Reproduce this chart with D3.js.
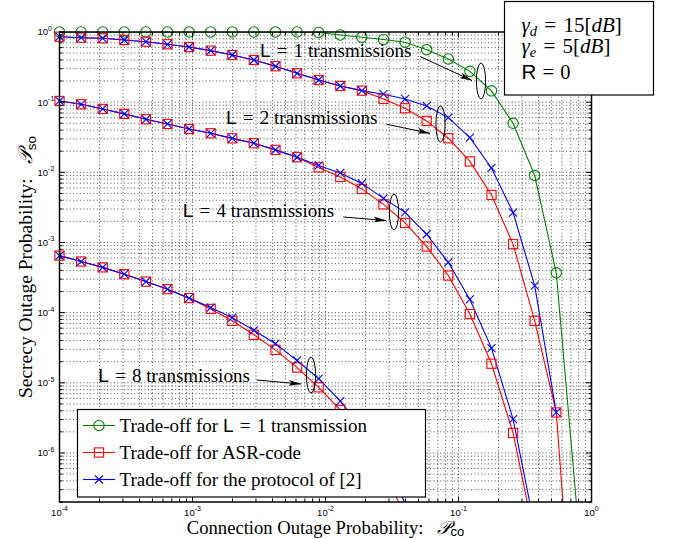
<!DOCTYPE html>
<html>
<head>
<meta charset="utf-8">
<script src="https://cdn.jsdelivr.net/npm/d3@7"></script>
<style>
  body { margin: 0; background: #fff; }
  text { font-family: "Liberation Serif", "Times New Roman", serif; }
  .tick-label { font-family: "Liberation Sans", Arial, sans-serif; font-size: 9.5px; }
</style>
</head>
<body>
<div id="chart"></div>
<script>
let width = 673;
let height = 539;
let margin = ({top: 32, right: 81.5, bottom: 37, left: 59.5});

// connection outage probability at each sample (same for every curve)
let xVals = [1.00e-4, 1.453e-4, 2.113e-4, 3.071e-4, 4.464e-4, 6.486e-4, 9.428e-4, 1.370e-3,
    1.991e-3, 2.894e-3, 4.207e-3, 6.114e-3, 8.888e-3, 0.01292, 0.01877, 0.02729, 0.03966,
    0.05765, 0.08379, 0.1218, 0.1770, 0.2573, 0.3740, 0.5436, 0.7900];

// secrecy outage probability
let singleL1 = [1, 1, 1, 1, 1, 1, 1, 1, 1, 1, 1, 1, 0.984, 0.906, 0.843, 0.782, 0.716,
    0.56, 0.413, 0.275, 0.145, 0.05, 0.009, 3.7e-4, 1.1e-7];

let asrL2 = [0.857, 0.830, 0.813, 0.769, 0.728, 0.668, 0.611, 0.542, 0.470, 0.399, 0.325,
    0.258, 0.207, 0.170, 0.146, 0.111, 0.0819, 0.0540, 0.0306, 0.0143, 0.00476, 9.48e-4,
    7.64e-5, 3.78e-6, 2.7e-10];
let protoL2 = [0.857, 0.830, 0.813, 0.769, 0.728, 0.668, 0.611, 0.542, 0.470, 0.399, 0.325,
    0.258, 0.207, 0.170, 0.146, 0.130, 0.111, 0.0883, 0.0602, 0.0312, 0.01155, 0.00267,
    2.43e-4, 3.78e-6];

let asrL4 = [0.104, 0.0933, 0.080, 0.068, 0.057, 0.0489, 0.0415, 0.036, 0.0305, 0.026,
    0.0209, 0.0164, 0.01175, 0.0086, 0.0058, 0.00349, 0.0019, 8.75e-4, 3.38e-4, 9.55e-5,
    1.87e-5, 1.93e-6, 6.0e-8];
let protoL4 = [0.104, 0.0933, 0.080, 0.068, 0.057, 0.0489, 0.0415, 0.036, 0.0305, 0.026,
    0.0209, 0.0164, 0.01254, 0.0098, 0.00695, 0.00425, 0.00269, 0.00131, 5.21e-4, 1.54e-4,
    3.12e-5, 3.04e-6, 8.8e-8];

let asrL8 = [6.5e-4, 5.35e-4, 4.42e-4, 3.53e-4, 2.77e-4, 2.16e-4, 1.61e-4, 1.13e-4, 7.64e-5,
    4.83e-5, 2.95e-5, 1.65e-5, 8.63e-6, 4.12e-6, 1.65e-6, 5.4e-7, 1.32e-7, 2.2e-8];
let protoL8 = [6.5e-4, 5.35e-4, 4.42e-4, 3.53e-4, 2.77e-4, 2.16e-4, 1.61e-4, 1.18e-4, 8.49e-5,
    5.6e-5, 3.61e-5, 2.08e-5, 1.15e-5, 5.48e-6, 2.29e-6, 8.5e-7, 1.92e-7, 3.5e-8];

let xDomain = [1e-4, 1];
let yDomain = [2e-7, 1];
let xTickExp = [-4, -3, -2, -1, 0];
let yTickExp = [0, -1, -2, -3, -4, -5, -6];

let legendLabels = ["Trade-off for ", "Trade-off for ASR-code", "Trade-off for the protocol of [2]"];

let green = "#008000", red = "#ff0000", blue = "#0000ff";

let svg = d3.select("#chart").append("svg")
    .attr("width", width)
    .attr("height", height);

let xScale = d3.scaleLog().domain(xDomain).range([margin.left, width - margin.right]);
let yScale = d3.scaleLog().domain(yDomain).range([height - margin.bottom, margin.top]);

let x0 = xScale.range()[0], x1 = xScale.range()[1];
let y0 = yScale.range()[0], y1 = yScale.range()[1];

svg.append("defs").append("clipPath").attr("id", "plotclip")
    .append("rect").attr("x", x0).attr("y", y1).attr("width", x1 - x0).attr("height", y0 - y1);

// dotted grid, major and minor
let grid = svg.append("g").attr("stroke", "#222").attr("stroke-width", 0.8)
    .attr("stroke-dasharray", "1,2.4");
xScale.ticks().forEach(function(t) {
    if (t <= xDomain[0] || t >= xDomain[1]) return;
    grid.append("line").attr("x1", xScale(t)).attr("x2", xScale(t)).attr("y1", y1).attr("y2", y0);
});
yScale.ticks().forEach(function(t) {
    if (t <= yDomain[0] || t >= yDomain[1]) return;
    grid.append("line").attr("y1", yScale(t)).attr("y2", yScale(t)).attr("x1", x0).attr("x2", x1);
});

// curves
let series = [
    {vals: singleL1, color: green, marker: "circle"},
    {vals: asrL2, color: red, marker: "square"},
    {vals: asrL4, color: red, marker: "square"},
    {vals: asrL8, color: red, marker: "square"},
    {vals: protoL2, color: blue, marker: "cross"},
    {vals: protoL4, color: blue, marker: "cross"},
    {vals: protoL8, color: blue, marker: "cross"}
];

let line = d3.line()
    .x(function(d, i) { return xScale(xVals[i]); })
    .y(function(d) { return yScale(d); });

let curves = svg.append("g").attr("clip-path", "url(#plotclip)");
series.forEach(function(s) {
    curves.append("path")
        .attr("d", line(s.vals))
        .attr("fill", "none")
        .attr("stroke", s.color)
        .attr("stroke-width", 1.1);
});

function drawMarker(g, type, cx, cy, color) {
    if (type == "circle") {
        g.append("circle").attr("cx", cx).attr("cy", cy).attr("r", 5.2)
            .attr("fill", "none").attr("stroke", color).attr("stroke-width", 1.1);
    } else if (type == "square") {
        g.append("rect").attr("x", cx - 4.6).attr("y", cy - 4.6).attr("width", 9.2).attr("height", 9.2)
            .attr("fill", "none").attr("stroke", color).attr("stroke-width", 1.1);
    } else {
        g.append("path").attr("d", `M${cx-4},${cy-4}L${cx+4},${cy+4}M${cx-4},${cy+4}L${cx+4},${cy-4}`)
            .attr("stroke", color).attr("stroke-width", 1.1);
    }
}

let markers = svg.append("g");
series.forEach(function(s) {
    s.vals.forEach(function(v, i) {
        if (v < yDomain[0] || v > yDomain[1] || xVals[i] > xDomain[1]) return;
        drawMarker(markers, s.marker, xScale(xVals[i]), yScale(v), s.color);
    });
});

// axes box and ticks
let axes = svg.append("g").attr("stroke", "#000");
axes.append("rect").attr("x", x0).attr("y", y1).attr("width", x1 - x0).attr("height", y0 - y1)
    .attr("fill", "none").attr("stroke-width", 1.5);
xScale.ticks().forEach(function(t) {
    let major = Math.abs(Math.log10(t) - Math.round(Math.log10(t))) < 1e-9;
    let len = major ? 5.5 : 3;
    let px = xScale(t);
    axes.append("line").attr("x1", px).attr("x2", px).attr("y1", y0).attr("y2", y0 - len);
    axes.append("line").attr("x1", px).attr("x2", px).attr("y1", y1).attr("y2", y1 + len);
});
yScale.ticks().forEach(function(t) {
    let major = Math.abs(Math.log10(t) - Math.round(Math.log10(t))) < 1e-9;
    let len = major ? 5.5 : 3;
    let py = yScale(t);
    axes.append("line").attr("y1", py).attr("y2", py).attr("x1", x0).attr("x2", x0 + len);
    axes.append("line").attr("y1", py).attr("y2", py).attr("x1", x1).attr("x2", x1 - len);
});

// tick labels with superscript exponents
xTickExp.forEach(function(e) {
    let t = svg.append("text").attr("class", "tick-label")
        .attr("x", xScale(Math.pow(10, e))).attr("y", 515.5).attr("text-anchor", "middle");
    t.append("tspan").text("10");
    t.append("tspan").attr("dy", -4.5).attr("font-size", "7px").text(e == 0 ? "0" : "-" + (-e));
});
yTickExp.forEach(function(e) {
    let t = svg.append("text").attr("class", "tick-label")
        .attr("x", 37.5).attr("y", yScale(Math.pow(10, e)) + 3.4);
    t.append("tspan").text("10");
    t.append("tspan").attr("dy", -4.5).attr("font-size", "7px").text(e == 0 ? "0" : "-" + (-e));
});

// axis titles
let xt = svg.append("text").attr("x", (x0 + x1) / 2).attr("y", 533.5).attr("text-anchor", "middle")
    .attr("font-size", "18.6px");
xt.append("tspan").text("Connection Outage Probability:");
xt.append("tspan").attr("dx", 14).attr("font-style", "italic").text("𝒫");
xt.append("tspan").attr("font-family", "Liberation Sans, sans-serif").attr("font-size", "13px")
    .attr("dy", 2.5).text("co");

let yt = svg.append("text").attr("transform", `translate(31.5,${(y0 + y1) / 2}) rotate(-90)`)
    .attr("text-anchor", "middle").attr("font-size", "19.5px");
yt.append("tspan").text("Secrecy Outage Probability:");
yt.append("tspan").attr("dx", 14).attr("font-style", "italic").text("𝒫");
yt.append("tspan").attr("font-family", "Liberation Sans, sans-serif").attr("font-size", "13.5px")
    .attr("dy", 4).text("so");

// annotations: label, arrow and ellipse around each pair of curves
svg.append("defs").append("marker").attr("id", "arrowhead")
    .attr("viewBox", "0 0 13 7").attr("refX", 12.5).attr("refY", 3.5)
    .attr("markerWidth", 13).attr("markerHeight", 7).attr("markerUnits", "userSpaceOnUse")
    .attr("orient", "auto")
    .append("path").attr("d", "M0,0.6L13,3.5L0,6.4L3,3.5Z").attr("fill", "#000");

let notes = [
    {n: "1", tx: 260, ty: 57, ax1: 420, ay1: 56.5, ax2: 472, ay2: 80.5, ex: 481, ey: 81},
    {n: "2", tx: 226, ty: 123.5, ax1: 386.5, ay1: 124.3, ax2: 430, ay2: 133.3, ex: 440.5, ey: 124},
    {n: "4", tx: 182.7, ty: 217, ax1: 343.3, ay1: 217, ax2: 386, ay2: 220.5, ex: 394, ey: 212},
    {n: "8", tx: 98.3, ty: 381.5, ax1: 256.7, ay1: 380, ax2: 301, ay2: 384, ex: 311, ey: 375}
];
notes.forEach(function(d) {
    let t = svg.append("text").attr("x", d.tx).attr("y", d.ty).attr("font-size", "19px")
        .attr("xml:space", "preserve");
    t.append("tspan").attr("font-family", "Liberation Sans, sans-serif").text("L");
    t.append("tspan").attr("dx", 1.5).text(" = ");
    t.append("tspan").attr("dx", 1.5).text(d.n + " transmissions");
    svg.append("line").attr("x1", d.ax1).attr("y1", d.ay1).attr("x2", d.ax2).attr("y2", d.ay2)
        .attr("stroke", "#000").attr("stroke-width", 1).attr("marker-end", "url(#arrowhead)");
    svg.append("ellipse").attr("cx", d.ex).attr("cy", d.ey).attr("rx", 4.6).attr("ry", 18)
        .attr("fill", "none").attr("stroke", "#000").attr("stroke-width", 1);
});

// legend
let legend = svg.append("g");
legend.append("rect").attr("x", 77.5).attr("y", 409.5).attr("width", 348).attr("height", 87.5)
    .attr("fill", "#fff").attr("stroke", "#000").attr("stroke-width", 1.2);
let legendItems = [
    {color: green, marker: "circle"},
    {color: red, marker: "square"},
    {color: blue, marker: "cross"}
];
legendItems.forEach(function(item, i) {
    let cy = 425.5 + i * 27;
    legend.append("line").attr("x1", 83).attr("x2", 115).attr("y1", cy).attr("y2", cy)
        .attr("stroke", item.color).attr("stroke-width", 1.1);
    drawMarker(legend, item.marker, 99, cy, item.color);
    let t = legend.append("text").attr("x", 119.5).attr("y", cy + 6).attr("font-size", "19px")
        .attr("xml:space", "preserve");
    t.append("tspan").text(legendLabels[i]);
    if (i == 0) {
        t.append("tspan").attr("font-family", "Liberation Sans, sans-serif").text("L");
        t.append("tspan").attr("dx", 1.5).text(" = ");
        t.append("tspan").attr("dx", 1.5).text("1 transmission");
    }
});

// parameter box
let pbox = svg.append("g");
pbox.append("rect").attr("x", 504.5).attr("y", 1.5).attr("width", 149).attr("height", 93.5)
    .attr("fill", "#fff").attr("stroke", "#000").attr("stroke-width", 1.2);
let params = [{sym: "γ", sub: "d", val: "15", by: 31.5}, {sym: "γ", sub: "e", val: "5", by: 53.3}];
params.forEach(function(p) {
    let t = pbox.append("text").attr("x", 521.5).attr("y", p.by).attr("font-size", "21px")
        .attr("xml:space", "preserve");
    t.append("tspan").attr("font-style", "italic").text(p.sym);
    t.append("tspan").attr("font-style", "italic").attr("font-size", "14.5px").attr("dy", 4).text(p.sub);
    t.append("tspan").attr("dy", -4).attr("dx", 2).text(" = ");
    t.append("tspan").attr("dx", 2).text(p.val + "[");
    t.append("tspan").attr("font-style", "italic").text("dB");
    t.append("tspan").text("]");
});
let rt = pbox.append("text").attr("x", 521.5).attr("y", 79.3).attr("font-size", "20.5px")
    .attr("xml:space", "preserve");
rt.append("tspan").attr("font-family", "Liberation Sans, sans-serif").text("R");
rt.append("tspan").attr("dx", 1).text(" = ");
rt.append("tspan").attr("dx", 1).text("0");
</script>
</body>
</html>
